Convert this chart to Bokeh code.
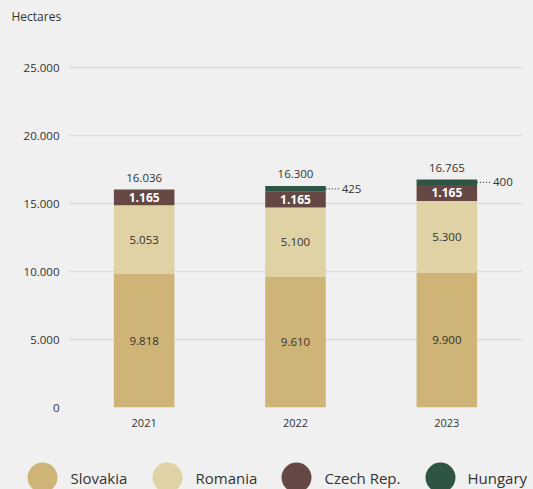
from bokeh.plotting import figure
from bokeh.models import ColumnDataSource, FactorRange, Range1d
from bokeh.transform import dodge
from bokeh.core.properties import value
from bokeh.embed import file_html
from bokeh.resources import INLINE

# ---- data ----
years = ["2021", "2022", "2023"]
slovakia = [9818, 9610, 9900]
romania = [5053, 5100, 5300]
czech = [1165, 1165, 1165]
hungary = [0, 425, 400]
totals = [16036, 16300, 16765]
series_keys = ["slovakia", "romania", "czech", "hungary"]
series_names = ["Slovakia", "Romania", "Czech Rep.", "Hungary"]
colors = ["#ceb577", "#dfd2a5", "#654844", "#2e5443"]
y_ticks = [0, 5000, 10000, 15000, 20000, 25000]
y_tick_labels = ["0", "5.000", "10.000", "15.000", "20.000", "25.000"]
y_title = "Hectares"

BG = "#eff0ef"
FONT = "Open Sans"
TXT = "#333333"


def fmt(v):
    return f"{v:,}".replace(",", ".")


def strip(height):
    f = figure(width=533, height=height, x_range=Range1d(0, 533),
               y_range=Range1d(0, height), output_backend="svg",
               toolbar_location=None, min_border=0,
               background_fill_color=BG, border_fill_color=BG,
               outline_line_color=None)
    f.axis.visible = False
    f.grid.visible = False
    return f


# ---- header strip with the unit title ----
top = strip(32)
top.text(x=[11], y=[16], text=[y_title], text_align="left",
         text_baseline="middle", text_font=value(FONT), text_font_size="12px",
         text_color=TXT)

# ---- main chart ----
src = ColumnDataSource(dict(year=years, slovakia=slovakia, romania=romania,
                            czech=czech, hungary=hungary))

p = figure(x_range=FactorRange(factors=years, range_padding=0),
           y_range=Range1d(0, 27000),
           width=533, height=424, output_backend="svg", toolbar_location=None,
           min_border_left=68, min_border_right=11, min_border_top=8,
           min_border_bottom=49,
           background_fill_color=BG, border_fill_color=BG,
           outline_line_color=None)

p.vbar_stack(series_keys, x="year", width=0.4, color=colors, line_color=None,
             source=src)

p.xgrid.visible = False
p.ygrid.grid_line_color = "#dcdedd"
p.ygrid.grid_line_width = 1.5
p.yaxis.ticker = y_ticks
p.yaxis.major_label_overrides = dict(zip(y_ticks, y_tick_labels))
for ax in (p.xaxis[0], p.yaxis[0]):
    ax.axis_line_color = None
    ax.major_tick_line_color = None
    ax.minor_tick_line_color = None
    ax.major_label_text_font = FONT
    ax.major_label_text_color = TXT
p.yaxis.major_label_text_font_size = "11.5px"
p.yaxis.major_label_standoff = 3
p.xaxis.major_label_text_font_size = "11px"
p.xaxis.major_label_standoff = 5

# inner labels
lab_x, lab_y, lab_t = [], [], []
for i, yr in enumerate(years):
    lab_x += [yr, yr]
    lab_y += [slovakia[i] / 2, slovakia[i] + romania[i] / 2]
    lab_t += [fmt(slovakia[i]), fmt(romania[i])]
p.text(x="year", y="y", text="t",
       source=ColumnDataSource(dict(year=lab_x, y=lab_y, t=lab_t)),
       text_align="center", text_baseline="middle",
       text_font=value(FONT), text_font_size="11.5px", text_color=TXT)

cz_y = [slovakia[i] + romania[i] + czech[i] / 2 for i in range(len(years))]
p.text(x="year", y="y", text="t",
       source=ColumnDataSource(dict(year=years, y=cz_y, t=[fmt(v) for v in czech])),
       text_align="center", text_baseline="middle",
       text_font=value(FONT), text_font_size="12px", text_font_style="bold",
       text_color="white")

# totals
p.text(x="year", y="y", text="t",
       source=ColumnDataSource(dict(year=years, y=totals, t=[fmt(v) for v in totals])),
       text_align="center", text_baseline="middle", y_offset=-12,
       text_font=value(FONT), text_font_size="11.5px", text_color=TXT)

# hungary callouts
hy, hyr, ht = [], [], []
for i, yr in enumerate(years):
    if hungary[i] > 0:
        hyr.append(yr)
        hy.append(slovakia[i] + romania[i] + czech[i] + hungary[i] / 2)
        ht.append(fmt(hungary[i]))
hsrc = ColumnDataSource(dict(year=hyr, y=hy, t=ht))
p.segment(x0=dodge("year", 0.2, range=p.x_range), x1=dodge("year", 0.29, range=p.x_range),
          y0="y", y1="y", source=hsrc, line_color="#444444", line_width=1.2,
          line_dash="1 2")
p.text(x=dodge("year", 0.305, range=p.x_range), y="y", text="t", source=hsrc,
       text_align="left", text_baseline="middle",
       text_font=value(FONT), text_font_size="11.5px", text_color=TXT)

# ---- legend strip ----
leg = strip(33)
circle_x = [42, 167, 296, 440]
text_x = [70, 195, 324, 467]
leg_y = [12] * 4
leg.scatter(x=circle_x, y=leg_y, size=30, color=colors, line_color=None)
leg.text(x=text_x, y=leg_y, text=series_names, text_align="left",
         text_baseline="middle", text_font=value(FONT), text_font_size="15px",
         text_color=TXT)

html = file_html([top, p, leg], INLINE, title="chart")
html = html.replace("</head>", "<style>body{background:#eff0ef;}</style></head>", 1)
open("out.html", "w").write(html)
